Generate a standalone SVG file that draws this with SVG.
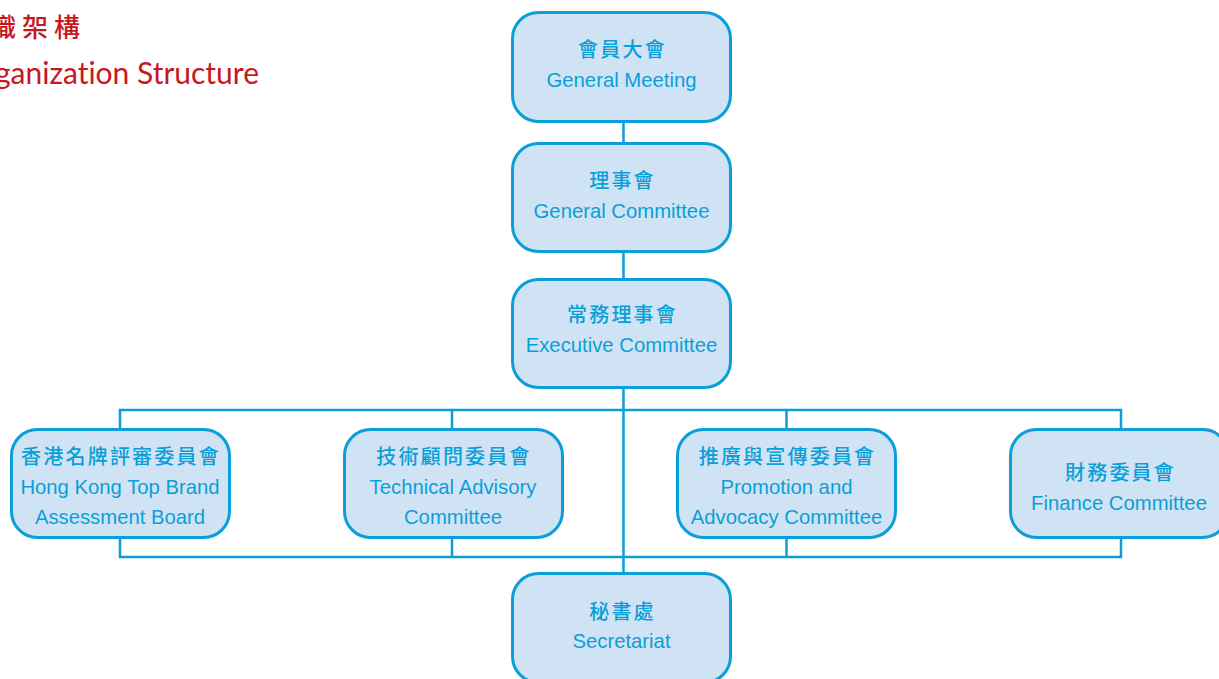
<svg xmlns="http://www.w3.org/2000/svg" width="1219" height="679" viewBox="0 0 1219 679">
<style>
.box{fill:#d0e3f4;stroke:#0a9fd9;stroke-width:3}
.con{fill:none;stroke:#0a9fd9;stroke-width:2.5}
.zh{font-family:"Noto Sans CJK TC","Noto Sans CJK SC",sans-serif;font-size:20px;font-weight:500;fill:#0a9fd9;text-anchor:middle;letter-spacing:2.2px}
.en{font-family:"Liberation Sans",Arial,sans-serif;font-size:20.3px;fill:#0a9fd9;text-anchor:middle}
.tzh{font-family:"Noto Sans CJK TC","Noto Sans CJK SC",sans-serif;font-size:26px;font-weight:500;fill:#c8171e;letter-spacing:6px}
.ten{font-family:Lato,"Open Sans",sans-serif;font-size:30px;fill:#c8171e;text-anchor:end;font-variant-ligatures:none}
</style>
<rect width="1219" height="679" fill="#ffffff"/>
<g id="title">
<text class="tzh" x="-42" y="37">組織架構</text>
<text class="ten" x="259" y="84">Organization Structure</text>
</g>
<g id="connectors">
<line class="con" x1="623.5" y1="122" x2="623.5" y2="143"/>
<line class="con" x1="623.5" y1="252" x2="623.5" y2="279"/>
<line class="con" x1="623.5" y1="388" x2="623.5" y2="573"/>
<polyline class="con" points="120,428 120,410 1121,410 1121,428"/>
<line class="con" x1="452" y1="410" x2="452" y2="428"/>
<line class="con" x1="786.5" y1="410" x2="786.5" y2="428"/>
<polyline class="con" points="120,538 120,557 1121,557 1121,538"/>
<line class="con" x1="452" y1="538" x2="452" y2="557"/>
<line class="con" x1="786.5" y1="538" x2="786.5" y2="557"/>
</g>
<g id="general-meeting">
<rect class="box" x="512.5" y="12.5" width="218" height="109" rx="26"/>
<text class="zh" x="622.5" y="56.5">會員大會</text>
<text class="en" x="621.5" y="87">General Meeting</text>
</g>
<g id="general-committee">
<rect class="box" x="512.5" y="143.5" width="218" height="108" rx="26"/>
<text class="zh" x="622.5" y="187.5">理事會</text>
<text class="en" x="621.5" y="218">General Committee</text>
</g>
<g id="executive-committee">
<rect class="box" x="512.5" y="279.5" width="218" height="108" rx="26"/>
<text class="zh" x="622.5" y="321.5">常務理事會</text>
<text class="en" x="621.5" y="352">Executive Committee</text>
</g>
<g id="hktba">
<rect class="box" x="11.5" y="429.5" width="218" height="108" rx="26"/>
<text class="zh" x="121" y="463.5">香港名牌評審委員會</text>
<text class="en" x="120" y="494">Hong Kong Top Brand</text>
<text class="en" x="120" y="524">Assessment Board</text>
</g>
<g id="technical">
<rect class="box" x="344.5" y="429.5" width="218" height="108" rx="26"/>
<text class="zh" x="454" y="463.5">技術顧問委員會</text>
<text class="en" x="453" y="494">Technical Advisory</text>
<text class="en" x="453" y="524">Committee</text>
</g>
<g id="promotion">
<rect class="box" x="677.5" y="429.5" width="218" height="108" rx="26"/>
<text class="zh" x="787.5" y="463.5">推廣與宣傳委員會</text>
<text class="en" x="786.5" y="494">Promotion and</text>
<text class="en" x="786.5" y="524">Advocacy Committee</text>
</g>
<g id="finance">
<rect class="box" x="1010.5" y="429.5" width="218" height="108" rx="26"/>
<text class="zh" x="1120.5" y="480">財務委員會</text>
<text class="en" x="1119" y="510">Finance Committee</text>
</g>
<g id="secretariat">
<rect class="box" x="512.5" y="573.5" width="218" height="109" rx="26"/>
<text class="zh" x="622.5" y="618.5">秘書處</text>
<text class="en" x="621.5" y="648">Secretariat</text>
</g>
</svg>
